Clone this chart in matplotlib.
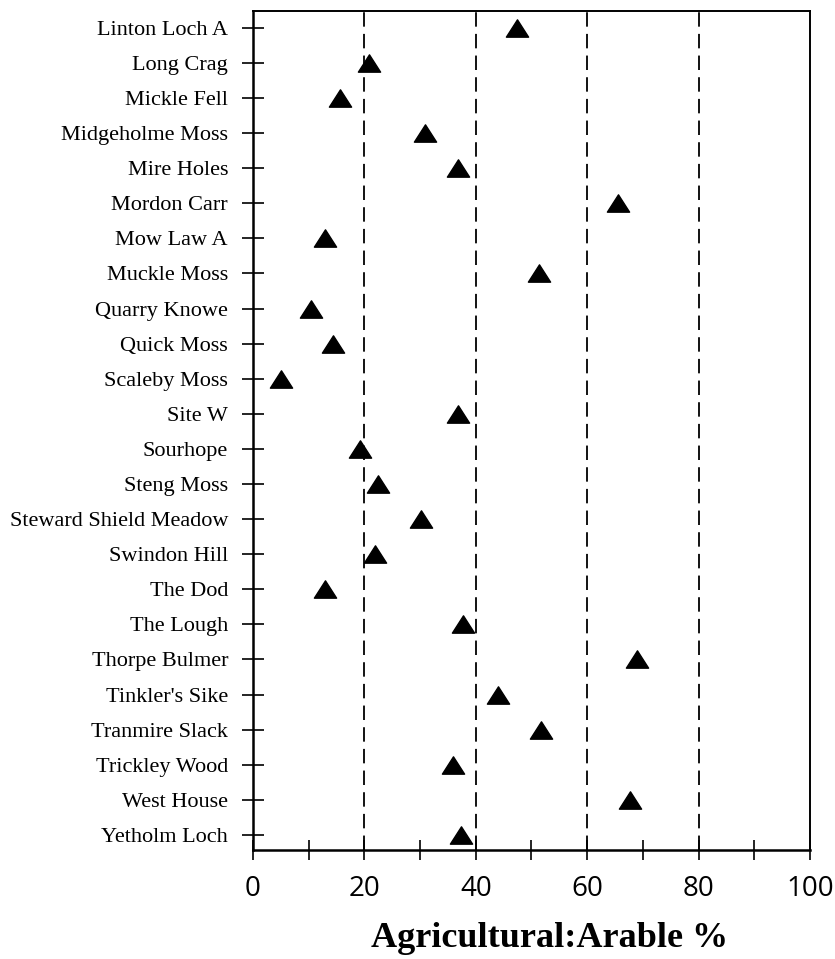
import matplotlib.pyplot as plt
from matplotlib.path import Path

sites = [
    "Linton Loch A", "Long Crag", "Mickle Fell", "Midgeholme Moss", "Mire Holes",
    "Mordon Carr", "Mow Law A", "Muckle Moss", "Quarry Knowe", "Quick Moss",
    "Scaleby Moss", "Site W", "Sourhope", "Steng Moss", "Steward Shield Meadow",
    "Swindon Hill", "The Dod", "The Lough", "Thorpe Bulmer", "Tinkler's Sike",
    "Tranmire Slack", "Trickley Wood", "West House", "Yetholm Loch",
]
arable_pct = [
    47.4, 20.9, 15.7, 30.8, 36.8,
    65.5, 12.9, 51.3, 10.5, 14.3,
    5.1, 36.8, 19.3, 22.5, 30.2,
    21.9, 12.9, 37.7, 69.0, 43.9,
    51.7, 35.9, 67.7, 37.4,
]
x_ticks = [0, 20, 40, 60, 80, 100]
grid_at = [20, 40, 60, 80]

# slightly squat filled triangle
tri = Path([(-1, -0.78), (1, -0.78), (0, 0.78), (-1, -0.78)],
           [Path.MOVETO, Path.LINETO, Path.LINETO, Path.CLOSEPOLY])

fig = plt.figure(figsize=(8.35, 9.59), dpi=100)
ax = fig.add_axes([0.303, 0.1137, 0.667, 0.8748])

ypos = list(range(len(sites)))
for g in grid_at:
    ax.axvline(g, color="black", lw=1.3, dashes=(8, 4), zorder=1)
ax.plot(arable_pct, ypos, linestyle="none", marker=tri, markersize=16,
        color="black", zorder=3)

ax.set_xlim(0, 100)
ax.set_ylim(len(sites) - 1 + 0.43, -0.48)
ax.set_yticks(ypos)
ax.set_yticklabels(sites, family="Liberation Serif", fontsize=16)
ax.set_xticks(range(0, 101, 10), minor=True)
ax.set_xticks(x_ticks)
ax.set_xticklabels([str(t) for t in x_ticks], family="Open Sans", fontsize=20)
ax.tick_params(axis="y", direction="inout", length=16, width=1.2, pad=10)
ax.tick_params(axis="x", which="both", direction="inout", length=14, width=1.2,
               pad=11)
ax.set_xlabel("Agricultural:Arable %", family="Liberation Serif",
              fontweight="bold", fontsize=26)
ax.xaxis.set_label_coords(0.533, -0.086)

for side in ["left", "bottom"]:
    ax.spines[side].set_linewidth(1.8)
for side in ["top", "right"]:
    ax.spines[side].set_linewidth(1.4)

fig.savefig("out.png", dpi=100)
